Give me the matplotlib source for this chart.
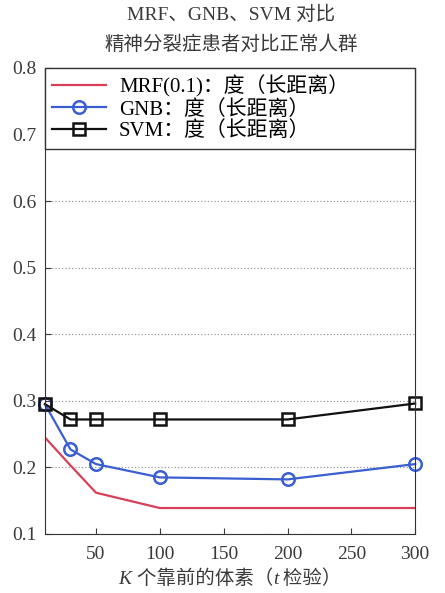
import matplotlib
matplotlib.use("Agg")
import matplotlib.pyplot as plt
from matplotlib.offsetbox import TextArea, HPacker, AnchoredOffsetbox

plt.rcParams['font.family'] = ['Liberation Serif', 'Noto Sans CJK SC']

# Number of top-ranked voxels (t-test)
k_values = [10, 30, 50, 100, 200, 300]
mrf_err = [0.245, 0.203, 0.162, 0.139, 0.139, 0.139]
gnb_err = [0.295, 0.227, 0.205, 0.185, 0.182, 0.205]
svm_err = [0.295, 0.272, 0.272, 0.272, 0.272, 0.296]

x_ticks = [50, 100, 150, 200, 250, 300]
y_ticks = [0.1, 0.2, 0.3, 0.4, 0.5, 0.6, 0.7, 0.8]

txt_color = '#3a3a3a'

fig = plt.figure(figsize=(4.45, 5.93), dpi=100)
ax = fig.add_axes([0.101, 0.0995, 0.832, 0.786])

ax.plot(k_values, mrf_err, color='#d8405a', lw=1.6, label='MRF(0.1)：度（长距离）')
ax.plot(k_values, gnb_err, color='#3a5fd0', lw=1.6, marker='o', ms=9,
        mfc='none', mew=1.8, clip_on=False, label='GNB：度（长距离）')
ax.plot(k_values, svm_err, color='#111111', lw=1.6, marker='s', ms=8,
        mfc='none', mew=1.8, clip_on=False, label='SVM：度（长距离）')

ax.set_xlim(10, 300)
ax.set_ylim(0.1, 0.8)
ax.set_xticks(x_ticks)
ax.set_yticks(y_ticks)
ax.set_yticklabels([f'{v:.1f}' for v in y_ticks])
ax.tick_params(direction='in', labelsize=14, length=4, colors=txt_color, pad=6)
ax.tick_params(axis='x', pad=9)
ax.yaxis.grid(True, linestyle=':', color='#999999', lw=0.9)
ax.set_axisbelow(True)
for s in ax.spines.values():
    s.set_color('#333333')

# x-axis label with italic K and t
lab_kw = dict(fontsize=14, color=txt_color)
parts = [
    TextArea('K', textprops=dict(style='italic', **lab_kw)),
    TextArea(' 个靠前的体素（', textprops=lab_kw),
    TextArea('t', textprops=dict(style='italic', **lab_kw)),
    TextArea(' 检验）', textprops=lab_kw),
]
xlab = AnchoredOffsetbox(loc='upper center', child=HPacker(children=parts, pad=0, sep=0),
                         bbox_to_anchor=(0.5, -0.075), bbox_transform=ax.transAxes,
                         frameon=False, pad=0, borderpad=0)
ax.add_artist(xlab)

fig.text(0.52, 0.975, 'MRF、GNB、SVM 对比', ha='center', va='center',
         fontsize=14, color=txt_color)
fig.text(0.52, 0.925, '精神分裂症患者对比正常人群', ha='center', va='center',
         fontsize=14, color=txt_color)

leg = ax.legend(loc='upper left', bbox_to_anchor=(0, 1, 1, 0), mode='expand',
                borderaxespad=0, fontsize=15, handlelength=2.6,
                fancybox=False, framealpha=1, edgecolor='#333333',
                labelspacing=0.1, borderpad=0.35, handletextpad=0.6)
leg.get_frame().set_linewidth(1.0)

fig.savefig('out.png', dpi=100)
